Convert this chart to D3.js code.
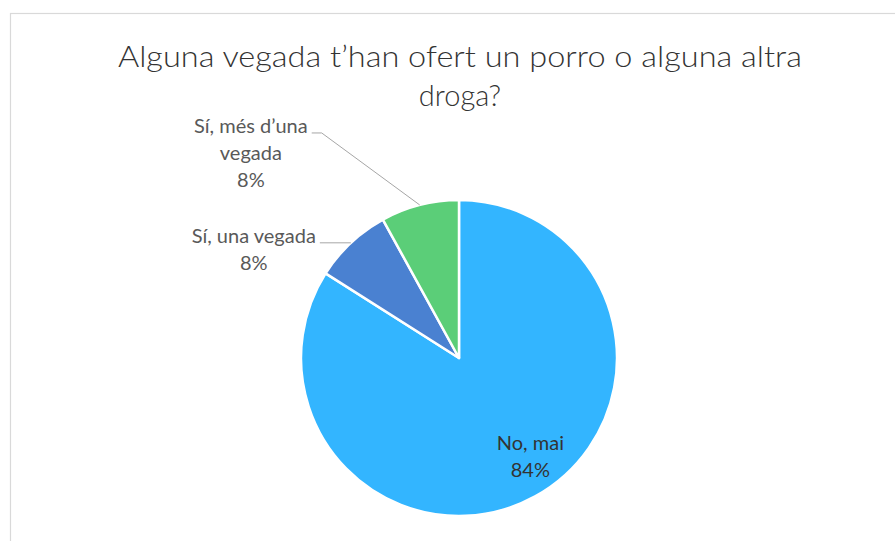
<!DOCTYPE html>
<html>
<head>
<meta charset="utf-8">
<script src="https://cdn.jsdelivr.net/npm/d3@7"></script>
<style>
  html, body { margin: 0; padding: 0; background: #fff; }
  svg { display: block; }
  .title { font-family: Lato, "Open Sans", sans-serif; font-weight: 300; fill: #333; }
  .lbl { font-family: Lato, "Open Sans", sans-serif; font-size: 20px; fill: #595959; }
  .lbl-in { fill: #333; }
  .leader { stroke: #a6a6a6; stroke-width: 1; fill: none; }
</style>
</head>
<body>
<svg id="chart" width="895" height="541"></svg>
<script>
// chart data
const titleLines = ['Alguna vegada t’han ofert un porro o alguna altra', 'droga?'];
const categories = ['No, mai', 'Sí, una vegada', 'Sí, més d’una vegada'];
const nameLines = [['No, mai'], ['Sí, una vegada'], ['Sí, més d’una', 'vegada']];
const values = [84, 8, 8];
const colors = ['#33b5ff', '#4a81d1', '#5bce78'];

(function () {
  const width = 895, height = 541;
  const cx = 459, cy = 358, radius = 158;
  const lineGap = 27;

  // where each label goes: inside the slice or outside with a leader line
  const placement = [
    { inside: true, dx: 12, dy: -8 },
    { inside: false, elbow: [-31, 0], tail: 0 },
    { inside: false, elbow: [-98, -72], tail: 10 }
  ];

  const svg = d3.select('#chart');

  svg.append('rect')
    .attr('x', 10.5).attr('y', 13.5)
    .attr('width', width).attr('height', height)
    .attr('fill', '#fff')
    .attr('stroke', '#d9d9d9')
    .attr('stroke-width', 1.2);

  // first title line stretched to the reference width (Calibri Light is narrower than Lato)
  svg.append('g')
    .selectAll('text')
    .data(titleLines)
    .join('text')
    .attr('class', 'title')
    .attr('x', 460)
    .attr('y', (d, i) => 67 + i * 39)
    .attr('text-anchor', 'middle')
    .attr('textLength', (d, i) => i === 0 ? 684 : null)
    .attr('lengthAdjust', 'spacingAndGlyphs')
    .style('font-size', '29px')
    .text(d => d);

  const pie = d3.pie().sort(null).value(d => d.value);
  const data = categories.map((c, i) => ({ name: c, value: values[i], lines: nameLines[i], color: colors[i], place: placement[i] }));
  const arcs = pie(data);
  const total = d3.sum(values);
  const pct = v => d3.format('.0%')(v / total);

  const arc = d3.arc().innerRadius(0).outerRadius(radius);
  const edge = d3.arc().innerRadius(radius).outerRadius(radius);
  const inner = d3.arc().innerRadius(radius * 0.78).outerRadius(radius * 0.78);

  const g = svg.append('g').attr('transform', `translate(${cx},${cy})`);

  g.selectAll('path.slice')
    .data(arcs)
    .join('path')
    .attr('class', 'slice')
    .attr('d', arc)
    .attr('fill', d => d.data.color)
    .attr('stroke', '#fff')
    .attr('stroke-width', 2.5)
    .attr('stroke-linejoin', 'round');

  arcs.forEach(a => {
    const p = a.data.place;
    const lines = a.data.lines.concat([pct(a.data.value)]);

    if (p.inside) {
      const [x, y] = inner.centroid(a);
      const t = g.append('text')
        .attr('class', 'lbl lbl-in')
        .attr('text-anchor', 'middle');
      lines.forEach((s, i) => {
        t.append('tspan')
          .attr('x', x + p.dx)
          .attr('y', y + p.dy + (i - (lines.length - 1) / 2) * lineGap + 6)
          .text(s);
      });
      return;
    }

    const [ex, ey] = edge.centroid(a);
    const bx = ex + p.elbow[0], by = ey + p.elbow[1];
    const tx = bx - p.tail;

    g.append('path')
      .attr('class', 'leader')
      .attr('d', d3.line()([[ex, ey], [bx, by], [tx, by]]));

    const t = g.append('text')
      .attr('class', 'lbl')
      .attr('text-anchor', 'middle');
    const spans = lines.map((s, i) => t.append('tspan').attr('y', by + i * lineGap).text(s));
    const maxW = d3.max(spans, s => s.node().getComputedTextLength());
    spans.forEach(s => s.attr('x', tx - 4 - maxW / 2));
  });
})();
</script>
</body>
</html>
